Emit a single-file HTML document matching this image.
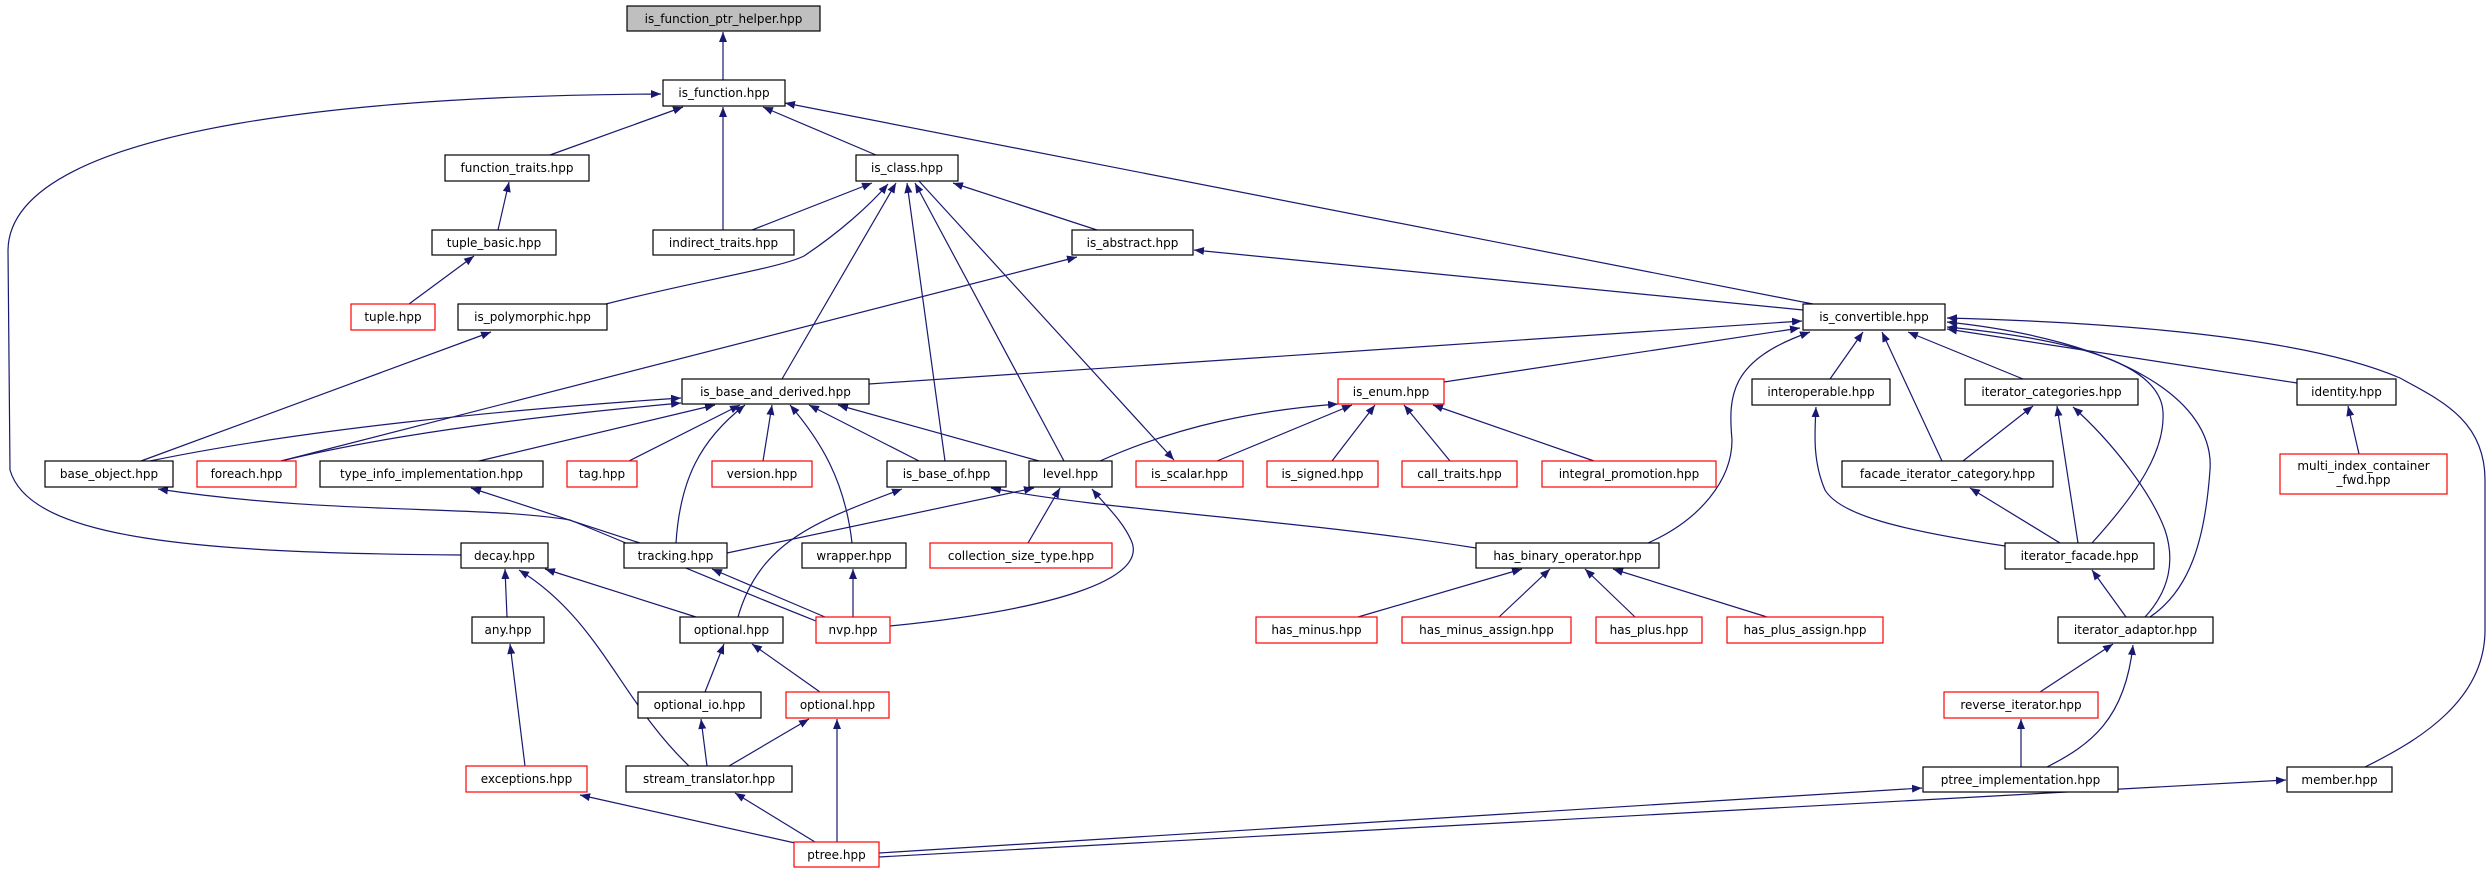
<!DOCTYPE html>
<html><head><meta charset="utf-8"><style>
html,body{margin:0;padding:0;background:#fff;}
svg{display:block;}
text{font-family:"DejaVu Sans","Liberation Sans",sans-serif;font-size:12px;fill:#000;text-anchor:middle;}
.n{fill:#fff;stroke:#000;stroke-width:1.2;}
.r{fill:#fff;stroke:#ff0000;stroke-width:1.2;}
.e{fill:none;stroke:#191970;stroke-width:1.2;marker-end:url(#a);}
</style></head><body>
<svg width="2490" height="873" viewBox="0 0 2490 873" xmlns="http://www.w3.org/2000/svg">
<defs><marker id="a" viewBox="0 0 10 8" refX="10" refY="4" markerWidth="10" markerHeight="8" markerUnits="userSpaceOnUse" orient="auto"><path d="M0,0 L10,4 L0,8 z" fill="#191970"/></marker></defs>

<!-- edges -->
<path class="e" d="M723,80 L723,32"/>
<path class="e" d="M550,155 L683,107"/>
<path class="e" d="M723,230 L723,107"/>
<path class="e" d="M876,155 L763,107"/>
<path class="e" d="M1813,304 L785,103"/>
<path class="e" d="M461,555 C200,553 30,540 10,470 L8,250 C10,120 400,95 661,94"/>
<path class="e" d="M498,230 L509,182"/>
<path class="e" d="M409,304 L474,256"/>
<path class="e" d="M752,230 L872,183"/>
<path class="e" d="M606,304 C700,280 780,268 804,256 C840,232 870,205 888,184"/>
<path class="e" d="M782,379 L896,183"/>
<path class="e" d="M945,461 L907,183"/>
<path class="e" d="M1064,461 L915,183"/>
<path class="e" d="M919,181 L1174,460"/>
<path class="e" d="M1097,230 L953,183"/>
<path class="e" d="M281,461 L1077,257"/>
<path class="e" d="M1803,310 L1194,250"/>
<path class="e" d="M141,461 L491,332"/>
<path class="e" d="M869,384 L1802,321"/>
<path class="e" d="M1444,382 L1800,328"/>
<path class="e" d="M1648,543 C1700,520 1732,480 1732,440 C1728,395 1730,360 1810,332"/>
<path class="e" d="M1830,379 L1863,332"/>
<path class="e" d="M1942,461 L1882,332"/>
<path class="e" d="M2023,379 L1908,332"/>
<path class="e" d="M2092,543 C2140,490 2165,450 2163,412 C2160,360 2060,338 1947,327"/>
<path class="e" d="M2150,617 C2190,590 2205,540 2210,470 C2215,400 2120,340 1947,322"/>
<path class="e" d="M2297,383 L1947,329"/>
<path class="e" d="M2365,767 C2420,740 2485,700 2485,630 L2485,480 C2485,420 2440,400 2400,378 C2300,335 2100,322 1947,318"/>
<path class="e" d="M150,461 C300,430 500,410 681,398"/>
<path class="e" d="M281,461 C400,432 550,415 681,403"/>
<path class="e" d="M479,461 L715,405"/>
<path class="e" d="M629,461 L740,405"/>
<path class="e" d="M676,543 C680,480 700,440 745,405"/>
<path class="e" d="M763,461 L772,405"/>
<path class="e" d="M852,543 C845,480 820,440 790,405"/>
<path class="e" d="M919,461 L809,405"/>
<path class="e" d="M1039,461 L838,405"/>
<path class="e" d="M1100,461 C1180,425 1260,410 1338,404"/>
<path class="e" d="M1217,461 L1352,405"/>
<path class="e" d="M1332,461 L1375,405"/>
<path class="e" d="M1450,461 L1404,405"/>
<path class="e" d="M1594,461 L1433,405"/>
<path class="e" d="M640,543 L471,488"/>
<path class="e" d="M816,621 C700,575 620,540 570,520 C480,505 330,515 158,489"/>
<path class="e" d="M727,553 L1034,488"/>
<path class="e" d="M1028,543 L1060,488"/>
<path class="e" d="M890,626 C1050,610 1150,580 1131,540 C1122,520 1105,505 1092,489"/>
<path class="e" d="M738,617 C760,540 820,520 902,489"/>
<path class="e" d="M1476,548 C1300,520 1100,510 991,488"/>
<path class="e" d="M825,617 L712,569"/>
<path class="e" d="M853,617 L853,569"/>
<path class="e" d="M507,617 L505,569"/>
<path class="e" d="M696,617 L545,569"/>
<path class="e" d="M689,766 C620,700 600,620 519,570"/>
<path class="e" d="M525,766 L510,644"/>
<path class="e" d="M705,692 L724,644"/>
<path class="e" d="M820,692 L752,644"/>
<path class="e" d="M707,766 L701,719"/>
<path class="e" d="M729,766 L809,719"/>
<path class="e" d="M795,843 L580,795"/>
<path class="e" d="M815,842 L735,793"/>
<path class="e" d="M837,842 L837,719"/>
<path class="e" d="M879,853 L1922,788"/>
<path class="e" d="M879,857 L2286,780"/>
<path class="e" d="M2005,546 C1900,530 1840,515 1825,490 C1812,460 1815,430 1816,407"/>
<path class="e" d="M1963,461 L2033,406"/>
<path class="e" d="M2078,543 L2057,406"/>
<path class="e" d="M2145,617 C2170,590 2175,560 2165,530 C2150,490 2110,440 2073,407"/>
<path class="e" d="M2060,543 L1970,488"/>
<path class="e" d="M2126,617 L2092,570"/>
<path class="e" d="M2040,692 L2113,644"/>
<path class="e" d="M2047,767 C2090,745 2125,720 2133,645"/>
<path class="e" d="M2021,767 L2021,719"/>
<path class="e" d="M2359,454 L2348,406"/>
<path class="e" d="M1358,617 L1522,569"/>
<path class="e" d="M1499,617 L1550,569"/>
<path class="e" d="M1635,617 L1585,569"/>
<path class="e" d="M1767,617 L1613,569"/>

<!-- nodes -->
<rect x="627" y="6" width="193" height="25" fill="#bfbfbf" stroke="#000" stroke-width="1.2"/><text x="723.5" y="23">is_function_ptr_helper.hpp</text>
<rect class="n" x="663" y="80" width="122" height="26"/><text x="724" y="97">is_function.hpp</text>
<rect class="n" x="445" y="155" width="144" height="26"/><text x="517" y="172">function_traits.hpp</text>
<rect class="n" x="856" y="155" width="102" height="26"/><text x="907" y="172">is_class.hpp</text>
<rect class="n" x="432" y="230" width="124" height="25"/><text x="494" y="247">tuple_basic.hpp</text>
<rect class="n" x="653" y="230" width="141" height="25"/><text x="723.5" y="247">indirect_traits.hpp</text>
<rect class="n" x="1072" y="230" width="121" height="25"/><text x="1132.5" y="247">is_abstract.hpp</text>
<rect class="r" x="351" y="304" width="84" height="26"/><text x="393" y="321">tuple.hpp</text>
<rect class="n" x="458" y="304" width="149" height="26"/><text x="532.5" y="321">is_polymorphic.hpp</text>
<rect class="n" x="1803" y="304" width="142" height="26"/><text x="1874" y="321">is_convertible.hpp</text>
<rect class="n" x="682" y="379" width="187" height="25"/><text x="775.5" y="396">is_base_and_derived.hpp</text>
<rect class="r" x="1338" y="379" width="106" height="25"/><text x="1391" y="396">is_enum.hpp</text>
<rect class="n" x="1752" y="379" width="138" height="26"/><text x="1821" y="396">interoperable.hpp</text>
<rect class="n" x="1965" y="379" width="173" height="26"/><text x="2051.5" y="396">iterator_categories.hpp</text>
<rect class="n" x="2297" y="379" width="99" height="26"/><text x="2346.5" y="396">identity.hpp</text>
<rect class="n" x="45" y="461" width="128" height="26"/><text x="109" y="478">base_object.hpp</text>
<rect class="r" x="197" y="461" width="99" height="26"/><text x="246.5" y="478">foreach.hpp</text>
<rect class="n" x="320" y="461" width="223" height="26"/><text x="431.5" y="478">type_info_implementation.hpp</text>
<rect class="r" x="567" y="461" width="70" height="26"/><text x="602" y="478">tag.hpp</text>
<rect class="r" x="712" y="461" width="100" height="26"/><text x="762" y="478">version.hpp</text>
<rect class="n" x="887" y="461" width="119" height="26"/><text x="946.5" y="478">is_base_of.hpp</text>
<rect class="n" x="1029" y="461" width="83" height="26"/><text x="1070.5" y="478">level.hpp</text>
<rect class="r" x="1136" y="461" width="107" height="26"/><text x="1189.5" y="478">is_scalar.hpp</text>
<rect class="r" x="1267" y="461" width="111" height="26"/><text x="1322.5" y="478">is_signed.hpp</text>
<rect class="r" x="1402" y="461" width="115" height="26"/><text x="1459.5" y="478">call_traits.hpp</text>
<rect class="r" x="1542" y="461" width="174" height="26"/><text x="1629" y="478">integral_promotion.hpp</text>
<rect class="n" x="1842" y="461" width="211" height="26"/><text x="1947.5" y="478">facade_iterator_category.hpp</text>
<rect class="r" x="2280" y="454" width="167" height="40"/><text x="2363.5" y="470">multi_index_container</text><text x="2363.5" y="484">_fwd.hpp</text>
<rect class="n" x="461" y="543" width="87" height="25"/><text x="504.5" y="560">decay.hpp</text>
<rect class="n" x="624" y="543" width="103" height="25"/><text x="675.5" y="560">tracking.hpp</text>
<rect class="n" x="802" y="543" width="104" height="25"/><text x="854" y="560">wrapper.hpp</text>
<rect class="r" x="930" y="543" width="182" height="25"/><text x="1021" y="560">collection_size_type.hpp</text>
<rect class="n" x="1476" y="543" width="183" height="25"/><text x="1567.5" y="560">has_binary_operator.hpp</text>
<rect class="n" x="2005" y="543" width="149" height="26"/><text x="2079.5" y="560">iterator_facade.hpp</text>
<rect class="n" x="472" y="617" width="72" height="26"/><text x="508" y="634">any.hpp</text>
<rect class="n" x="680" y="617" width="103" height="26"/><text x="731.5" y="634">optional.hpp</text>
<rect class="r" x="816" y="617" width="74" height="26"/><text x="853" y="634">nvp.hpp</text>
<rect class="r" x="1256" y="617" width="121" height="26"/><text x="1316.5" y="634">has_minus.hpp</text>
<rect class="r" x="1402" y="617" width="169" height="26"/><text x="1486.5" y="634">has_minus_assign.hpp</text>
<rect class="r" x="1596" y="617" width="106" height="26"/><text x="1649" y="634">has_plus.hpp</text>
<rect class="r" x="1727" y="617" width="156" height="26"/><text x="1805" y="634">has_plus_assign.hpp</text>
<rect class="n" x="2058" y="617" width="155" height="26"/><text x="2135.5" y="634">iterator_adaptor.hpp</text>
<rect class="n" x="638" y="692" width="123" height="26"/><text x="699.5" y="709">optional_io.hpp</text>
<rect class="r" x="786" y="692" width="103" height="26"/><text x="837.5" y="709">optional.hpp</text>
<rect class="r" x="1944" y="692" width="154" height="26"/><text x="2021" y="709">reverse_iterator.hpp</text>
<rect class="r" x="466" y="766" width="121" height="26"/><text x="526.5" y="783">exceptions.hpp</text>
<rect class="n" x="626" y="766" width="166" height="26"/><text x="709" y="783">stream_translator.hpp</text>
<rect class="n" x="1923" y="767" width="195" height="25"/><text x="2020.5" y="784">ptree_implementation.hpp</text>
<rect class="n" x="2287" y="767" width="105" height="25"/><text x="2339.5" y="784">member.hpp</text>
<rect class="r" x="794" y="842" width="85" height="25"/><text x="836.5" y="859">ptree.hpp</text>
</svg>
</body></html>
